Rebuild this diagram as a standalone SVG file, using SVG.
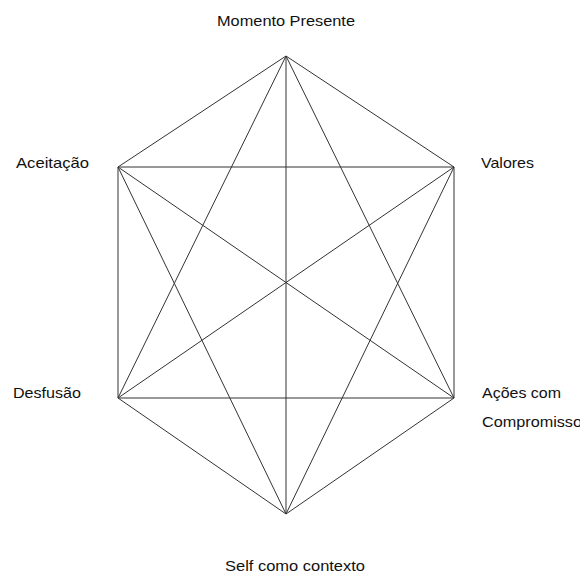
<svg xmlns="http://www.w3.org/2000/svg" width="580" height="575" viewBox="0 0 580 575">
<style>
.lbl{font-family:"Liberation Sans",Arial,sans-serif;font-size:15px;fill:#111}
.e{stroke:#333;stroke-width:1;fill:none}
</style>
<rect width="580" height="575" fill="#fff"/>
<g id="connectors">
<line class="e" x1="286" y1="56" x2="118" y2="167"/>
<line class="e" x1="286" y1="56" x2="454" y2="167"/>
<line class="e" x1="286" y1="56" x2="118" y2="398"/>
<line class="e" x1="286" y1="56" x2="454" y2="398"/>
<line class="e" x1="286" y1="56" x2="286" y2="514"/>
<line class="e" x1="118" y1="167" x2="454" y2="167"/>
<line class="e" x1="118" y1="167" x2="118" y2="398"/>
<line class="e" x1="118" y1="167" x2="454" y2="398"/>
<line class="e" x1="118" y1="167" x2="286" y2="514"/>
<line class="e" x1="454" y1="167" x2="454" y2="398"/>
<line class="e" x1="454" y1="167" x2="118" y2="398"/>
<line class="e" x1="454" y1="167" x2="286" y2="514"/>
<line class="e" x1="118" y1="398" x2="454" y2="398"/>
<line class="e" x1="118" y1="398" x2="286" y2="514"/>
<line class="e" x1="454" y1="398" x2="286" y2="514"/>
</g>
<g id="momento"><text class="lbl" x="217" y="26" textLength="138" lengthAdjust="spacingAndGlyphs">Momento Presente</text></g>
<g id="aceitacao"><text class="lbl" x="16" y="168" textLength="73" lengthAdjust="spacingAndGlyphs">Aceitação</text></g>
<g id="valores"><text class="lbl" x="481" y="168" textLength="53" lengthAdjust="spacingAndGlyphs">Valores</text></g>
<g id="desfusao"><text class="lbl" x="13" y="398" textLength="68" lengthAdjust="spacingAndGlyphs">Desfusão</text></g>
<g id="acoes"><text class="lbl" x="482" y="398" textLength="79" lengthAdjust="spacingAndGlyphs">Ações com</text><text class="lbl" x="482" y="427" textLength="100" lengthAdjust="spacingAndGlyphs">Compromisso</text></g>
<g id="self"><text class="lbl" x="225" y="571" textLength="140" lengthAdjust="spacingAndGlyphs">Self como contexto</text></g>
</svg>
